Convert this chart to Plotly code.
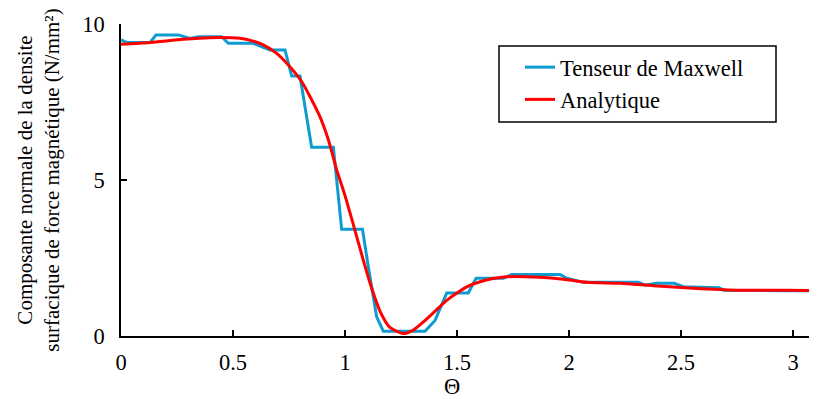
import plotly.graph_objects as go

# Tenseur de Maxwell (step-like numerical result)
theta_maxwell = [0.0, 0.025, 0.13, 0.156, 0.256, 0.308, 0.344, 0.449, 0.479, 0.59, 0.665, 0.732,
                 0.762, 0.799, 0.851, 0.948, 0.985, 1.078, 1.10, 1.141, 1.171, 1.357, 1.402, 1.454,
                 1.55, 1.585, 1.707, 1.744, 1.96, 1.99, 2.064, 2.31, 2.34, 2.39, 2.47, 2.51, 2.67,
                 2.69, 2.97, 3.11]
force_maxwell = [9.49, 9.41, 9.41, 9.65, 9.65, 9.54, 9.59, 9.59, 9.38, 9.38, 9.17, 9.17,
                 8.33, 8.33, 6.05, 6.05, 3.42, 3.42, 2.4, 0.62, 0.15, 0.15, 0.5, 1.38,
                 1.38, 1.85, 1.85, 1.97, 1.97, 1.85, 1.72, 1.72, 1.63, 1.69, 1.69, 1.58, 1.55,
                 1.47, 1.45, 1.45]

# Analytique
theta_analytic = [0.0, 0.13, 0.278, 0.397, 0.53, 0.59, 0.635, 0.695, 0.74, 0.807, 0.844, 0.888,
                  0.926, 0.963, 1.0, 1.04, 1.075, 1.112, 1.156, 1.2, 1.26, 1.305, 1.35, 1.40,
                  1.45, 1.50, 1.55, 1.603, 1.66, 1.72, 1.87, 1.975, 2.08, 2.23, 2.376, 2.555,
                  2.75, 2.97, 3.11]
force_analytic = [9.35, 9.41, 9.51, 9.56, 9.54, 9.45, 9.33, 9.06, 8.74, 8.15, 7.67, 7.03,
                  6.28, 5.32, 4.5, 3.5, 2.6, 1.69, 0.8, 0.28, 0.08, 0.19, 0.45, 0.78,
                  1.12, 1.38, 1.6, 1.74, 1.84, 1.9, 1.88, 1.82, 1.72, 1.69, 1.61, 1.53,
                  1.47, 1.47, 1.45]

x_ticks = [0, 0.5, 1, 1.5, 2, 2.5, 3]
x_tick_labels = ["0", "0.5", "1", "1.5", "2", "2.5", "3"]
y_ticks = [0, 5, 10]
y_tick_labels = ["0", "5", "10"]

FONT = "Liberation Serif"
TXT = dict(family=FONT, size=22.5, color="black")
TITLE_TXT = dict(family=FONT, size=21, color="black")

# plot area in screen pixels (page body has an 8px default margin)
PX0, PX1, PY0, PY1 = 121, 817, 24, 336
def px(x):
    return (x - PX0) / (PX1 - PX0)
def py(y):
    return (PY1 - y) / (PY1 - PY0)

fig = go.Figure()
fig.add_trace(go.Scatter(x=theta_maxwell, y=force_maxwell, mode="lines",
                         name="Tenseur de Maxwell",
                         line=dict(color="#0E9BCF", width=3)))
fig.add_trace(go.Scatter(x=theta_analytic, y=force_analytic, mode="lines",
                         name="Analytique",
                         line=dict(color="#FF0000", width=3, shape="spline", smoothing=0.6)))

fig.update_layout(
    width=809, height=391,
    margin=dict(l=113, r=0, t=16, b=63, autoexpand=False),
    paper_bgcolor="white", plot_bgcolor="white",
    font=TXT,
    showlegend=True,
    legend=dict(x=px(520), y=py(46), xanchor="left", yanchor="top",
                borderwidth=0, bgcolor="rgba(0,0,0,0)",
                font=TXT, tracegroupgap=0, itemwidth=30),
    xaxis=dict(range=[0, 3.107], tickvals=x_ticks, ticktext=x_tick_labels,
               showgrid=False, zeroline=False, showline=True, linecolor="black",
               linewidth=1.5, ticks="inside", ticklen=6, tickwidth=1.5, tickcolor="black",
               tickfont=TXT, automargin=False, ticklabelstandoff=5),
    yaxis=dict(range=[0, 10], tickvals=y_ticks, ticktext=y_tick_labels,
               showgrid=False, zeroline=False, showline=True, linecolor="black",
               linewidth=1.5, ticks="inside", ticklen=6, tickwidth=1.5, tickcolor="black",
               ticklabelstandoff=10, tickfont=TXT, automargin=False,
               title=dict(text="Composante normale de la densite<br>surfacique de force magnétique (N/mm²)",
                          standoff=17, font=TITLE_TXT)),
    annotations=[dict(text="Θ", xref="paper", yref="paper",
                      x=px(452), y=py(386),
                      xanchor="center", yanchor="middle", showarrow=False, font=TXT)],
    shapes=[dict(type="rect", xref="paper", yref="paper",
                 x0=px(499), x1=px(776), y0=py(122), y1=py(46),
                 line=dict(color="black", width=1.5), fillcolor="rgba(0,0,0,0)", layer="above")],
)

fig.write_html("out.html")
